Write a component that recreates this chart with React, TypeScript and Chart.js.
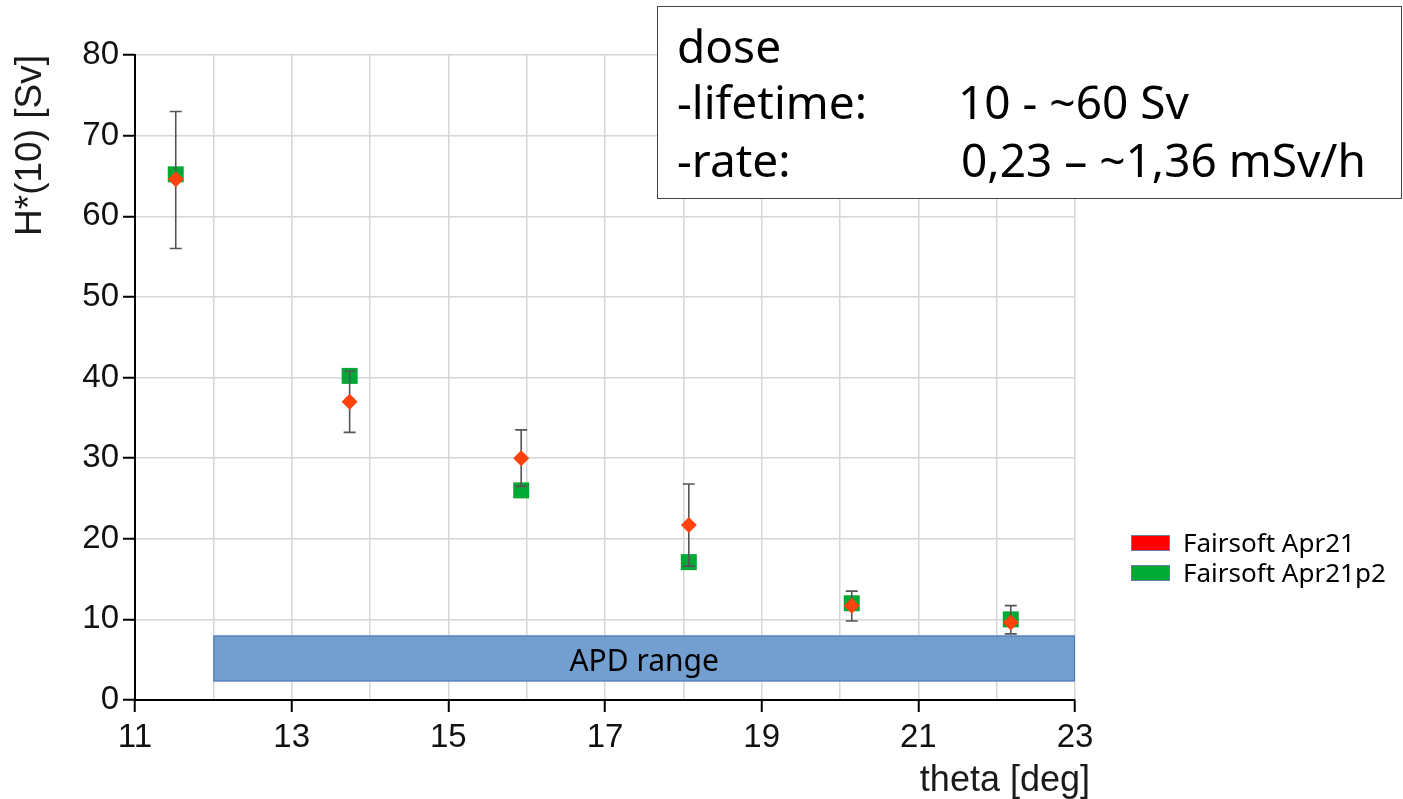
import React, { useEffect, useRef } from "react";
import { Chart, registerables } from "chart.js";

Chart.register(...registerables);

// ---- data ----
const thetaDeg = [11.52, 13.74, 15.93, 18.07, 20.15, 22.18];
const doseApr21 = [64.6, 37.0, 30.0, 21.7, 11.7, 9.6];
const doseApr21p2 = [65.2, 40.2, 26.0, 17.1, 12.0, 10.0];
const errLowApr21 = [56.0, 33.2, 26.5, 16.6, 9.8, 8.2];
const errHighApr21 = [73.0, 40.8, 33.5, 26.8, 13.5, 11.7];

const seriesLabels = ["Fairsoft Apr21", "Fairsoft Apr21p2"];

const apdRangeTheta = [12, 23];
const apdRangeDose = [2.3, 8.0];
const apdLabel = "APD range";

const xAxisTitle = "theta [deg]";
const yAxisTitle = "H*(10) [Sv]";

const infoLines = [
  ["dose", ""],
  ["-lifetime:", "10 - ~60 Sv"],
  ["-rate:", "0,23 \u2013 ~1,36 mSv/h"],
];

const RED_MARK = "#ff420e";
const GREEN_MARK = "#00a933";
const RED_LEGEND = "#ff0000";
const GREEN_LEGEND = "#00a933";

const errorBarPlugin = {
  id: "errorBars",
  beforeDatasetDraw(chart: any, args: any) {
    if (args.index !== 0) return;
    const { ctx, scales } = chart;
    const xs = scales.x;
    const ys = scales.y;
    ctx.save();
    ctx.strokeStyle = "#555555";
    ctx.lineWidth = 1.6;
    for (let i = 0; i < thetaDeg.length; i++) {
      const px = xs.getPixelForValue(thetaDeg[i]);
      const pLo = ys.getPixelForValue(errLowApr21[i]);
      const pHi = ys.getPixelForValue(errHighApr21[i]);
      ctx.beginPath();
      ctx.moveTo(px, pLo);
      ctx.lineTo(px, pHi);
      ctx.moveTo(px - 6, pLo);
      ctx.lineTo(px + 6, pLo);
      ctx.moveTo(px - 6, pHi);
      ctx.lineTo(px + 6, pHi);
      ctx.stroke();
    }
    ctx.restore();
  },
};

const apdPlugin = {
  id: "apdRange",
  beforeDatasetsDraw(chart: any) {
    const { ctx, scales } = chart;
    const x0 = scales.x.getPixelForValue(apdRangeTheta[0]);
    const x1 = scales.x.getPixelForValue(apdRangeTheta[1]);
    const y0 = scales.y.getPixelForValue(apdRangeDose[1]);
    const y1 = scales.y.getPixelForValue(apdRangeDose[0]);
    ctx.save();
    ctx.fillStyle = "#729fcf";
    ctx.fillRect(x0, y0, x1 - x0, y1 - y0);
    ctx.strokeStyle = "#4a76b0";
    ctx.lineWidth = 1;
    ctx.strokeRect(x0 + 0.5, y0 + 0.5, x1 - x0 - 1, y1 - y0 - 1);
    ctx.fillStyle = "#000";
    ctx.font = '30px "Noto Sans"';
    ctx.textAlign = "center";
    ctx.textBaseline = "middle";
    ctx.fillText(apdLabel, (x0 + x1) / 2, (y0 + y1) / 2 + 4);
    ctx.restore();
  },
};

const overlayPlugin = {
  id: "overlay",
  afterDraw(chart: any) {
    const { ctx } = chart;
    ctx.save();
    // axis titles
    ctx.fillStyle = "#1a1a1a";
    ctx.font = '37px "Liberation Sans", Arial, sans-serif';
    ctx.save();
    ctx.translate(31, chart.chartArea.top);
    ctx.rotate(-Math.PI / 2);
    ctx.textAlign = "right";
    ctx.textBaseline = "middle";
    ctx.fillText(yAxisTitle, 0, 0);
    ctx.restore();
    ctx.font = '36px "Liberation Sans", Arial, sans-serif';
    ctx.textAlign = "right";
    ctx.textBaseline = "alphabetic";
    ctx.fillText(xAxisTitle, 1090, 791);

    // info box
    ctx.fillStyle = "#fff";
    ctx.fillRect(657, 6, 744, 192);
    ctx.strokeStyle = "#444";
    ctx.lineWidth = 1;
    ctx.strokeRect(657.5, 6.5, 744, 192);
    ctx.fillStyle = "#000";
    ctx.font = '46px "Noto Sans"';
    ctx.textAlign = "left";
    const baselines = [63, 119, 177];
    const valueX = [958, 958, 961];
    infoLines.forEach((ln, i) => {
      ctx.fillText(ln[0], 677, baselines[i]);
      if (ln[1]) ctx.fillText(ln[1], valueX[i], baselines[i]);
    });

    // legend
    const legendColors = [RED_LEGEND, GREEN_LEGEND];
    ctx.font = '26px "Noto Sans"';
    seriesLabels.forEach((lab, i) => {
      const top = 535 + i * 30;
      ctx.fillStyle = legendColors[i];
      ctx.fillRect(1131, top, 39, 16);
      ctx.strokeStyle = "#6a7f9c";
      ctx.strokeRect(1131.5, top + 0.5, 38, 15);
      ctx.fillStyle = "#000";
      ctx.fillText(lab, 1183, top + 17);
    });
    ctx.restore();
  },
};

export default function App() {
  const canvasRef = useRef<HTMLCanvasElement>(null);

  useEffect(() => {
    if (!canvasRef.current) return;
    const chart = new Chart(canvasRef.current, {
      type: "scatter",
      data: {
        datasets: [
          {
            label: seriesLabels[0],
            data: thetaDeg.map((x, i) => ({ x, y: doseApr21[i] })),
            pointStyle: "rectRot",
            pointRadius: 8,
            pointHoverRadius: 8,
            backgroundColor: RED_MARK,
            borderColor: RED_MARK,
            borderWidth: 0,
          },
          {
            label: seriesLabels[1],
            data: thetaDeg.map((x, i) => ({ x, y: doseApr21p2[i] })),
            pointStyle: "rect",
            pointRadius: 11.3,
            pointHoverRadius: 11.3,
            backgroundColor: GREEN_MARK,
            borderColor: GREEN_MARK,
            borderWidth: 0,
          },
        ],
      },
      options: {
        responsive: false,
        animation: false,
        devicePixelRatio: 1,
        layout: { padding: { left: 0, top: 55, right: 328, bottom: 0 } },
        plugins: {
          legend: { display: false },
          tooltip: { enabled: false },
        },
        scales: {
          x: {
            type: "linear",
            min: 11,
            max: 23,
            afterFit(scale: any) {
              scale.height = 99;
            },
            ticks: {
              stepSize: 1,
              autoSkip: false,
              maxRotation: 0,
              padding: 6,
              color: "#111",
              font: { family: '"Liberation Sans Narrow", "Liberation Sans", Arial, sans-serif', size: 33 },
              callback: (v: any) => (Math.round(v) % 2 === 1 ? String(Math.round(v)) : ""),
            },
            grid: {
              color: "#d6d6d6",
              lineWidth: 1.5,
              tickLength: 12,
              tickWidth: 2,
              tickColor: (c: any) =>
                c.tick && Math.round(c.tick.value) % 2 === 1 ? "#000" : "rgba(0,0,0,0)",
            },
            border: { display: true, color: "#000", width: 2 },
          },
          y: {
            type: "linear",
            min: 0,
            max: 80,
            afterFit(scale: any) {
              scale.width = 135;
            },
            ticks: {
              stepSize: 10,
              padding: 4,
              color: "#111",
              font: { family: '"Liberation Sans", Arial, sans-serif', size: 33 },
            },
            grid: {
              color: "#d6d6d6",
              lineWidth: 1.5,
              tickLength: 12,
              tickWidth: 2,
              tickColor: "#000",
            },
            border: { display: true, color: "#000", width: 2 },
          },
        },
      },
      plugins: [apdPlugin, errorBarPlugin, overlayPlugin],
    } as any);
    return () => chart.destroy();
  }, []);

  return (
    <div style={{ position: "absolute", left: 0, top: 0, width: 1403, height: 799, background: "#fff" }}>
      <canvas ref={canvasRef} width={1403} height={799} style={{ width: 1403, height: 799, display: "block" }} />
    </div>
  );
}
